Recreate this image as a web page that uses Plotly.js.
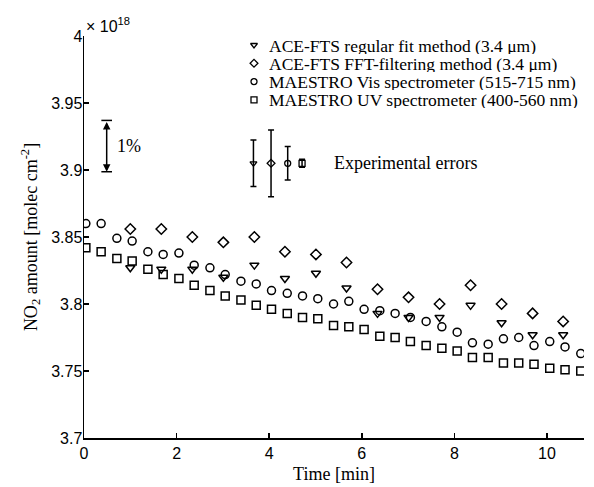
<!DOCTYPE html>
<html>
<head>
<meta charset="utf-8">
<script src="https://cdn.plot.ly/plotly-3.0.1.min.js"></script>
<style>html,body{margin:0;padding:0;background:#fff;}</style>
</head>
<body>
<div id="chart" style="width:594px;height:487px;"></div>
<script>
// Time axes (minutes)
const timeFine = [0.04,0.37,0.71,1.04,1.38,1.71,2.05,2.38,2.72,3.05,3.39,3.72,4.05,4.39,4.72,5.05,5.39,5.72,6.05,6.39,6.72,7.05,7.39,7.73,8.06,8.39,8.73,9.06,9.39,9.72,10.06,10.39,10.73];
const timeAce = [1.00,1.67,2.34,3.01,3.68,4.34,5.01,5.67,6.34,7.01,7.68,8.35,9.02,9.69,10.35];

// NO2 amounts (x 10^18 molec cm^-2)
const aceRegular = [3.827,3.826,3.826,3.820,3.829,3.819,3.823,3.812,3.793,3.790,3.790,3.799,3.786,3.777,3.777];
const aceFFT = [3.856,3.856,3.850,3.846,3.850,3.839,3.837,3.831,3.811,3.805,3.800,3.814,3.800,3.793,3.787];
const maestroVis = [3.860,3.860,3.849,3.847,3.839,3.837,3.838,3.829,3.827,3.822,3.817,3.815,3.810,3.808,3.806,3.804,3.800,3.802,3.796,3.795,3.793,3.790,3.787,3.783,3.779,3.771,3.770,3.774,3.775,3.769,3.772,3.768,3.763];
const maestroUV = [3.842,3.839,3.834,3.832,3.826,3.822,3.819,3.814,3.810,3.806,3.803,3.799,3.796,3.793,3.790,3.789,3.784,3.783,3.781,3.776,3.775,3.772,3.769,3.767,3.765,3.760,3.760,3.756,3.756,3.755,3.752,3.751,3.750];

const seriesNames = [
  "ACE-FTS regular fit method (3.4 \u03bcm)",
  "ACE-FTS FFT-filtering method (3.4 \u03bcm)",
  "MAESTRO Vis spectrometer (515-715 nm)",
  "MAESTRO UV spectrometer (400-560 nm)"
];

// Experimental error illustration
const errorTimes = [3.66, 4.04, 4.40, 4.71];
const errorLevel = [3.905, 3.905, 3.905, 3.905];
const errorHalfWidths = [0.0173, 0.0249, 0.0125, 0.003];
const errorLabel = "Experimental errors";

// 1% scale bar
const onePctTime = 0.49;
const onePctBottom = 3.8987;
const onePctTop = 3.937;
const onePctLabel = "1%";

// Axis ticks
const xTicks = [0, 2, 4, 6, 8, 10];
const yTicks = [3.7, 3.75, 3.8, 3.85, 3.9, 3.95, 4];
const yTickText = ["3.7", "3.75", "3.8", "3.85", "3.9", "3.95", "4"];

const symbols = ["triangle-down-open", "diamond-open", "circle-open", "square-open"];
const xs = [timeAce, timeAce, timeFine, timeFine];
const ys = [aceRegular, aceFFT, maestroVis, maestroUV];

const serif = "Liberation Serif, Times New Roman, serif";
const sans = "Liberation Sans, Arial, Helvetica, sans-serif";

// plot-area size in px (for the hand-built legend on an overlay pixel axis)
const W = 594, H = 487, M = {l: 84, r: 10, t: 36, b: 49};
const plotW = W - M.l - M.r, plotH = H - M.t - M.b;
const legSymX = 170, legTextX = 184, legTopY = 9, legGap = 18.3;

const traces = [];
for (let i = 0; i < 4; i++) {
  traces.push({
    x: xs[i], y: ys[i], type: "scatter", mode: "markers", showlegend: false,
    marker: {symbol: symbols[i], size: 8, color: "#000", line: {width: 1.5, color: "#000"}},
    hoverinfo: "skip"
  });
}
for (let i = 0; i < 4; i++) {
  traces.push({
    x: [errorTimes[i]], y: [errorLevel[i]], type: "scatter", mode: "markers", showlegend: false,
    marker: {symbol: symbols[i], size: 6, color: "#000", line: {width: 1.3, color: "#000"}},
    error_y: {type: "data", array: [errorHalfWidths[i]], visible: true, color: "#000", thickness: 1.5, width: 3}
  });
}
// legend keys
traces.push({
  x: symbols.map(() => legSymX), y: symbols.map((s, i) => legTopY + i * legGap),
  xaxis: "x2", yaxis: "y2", type: "scatter", mode: "markers", showlegend: false,
  marker: {symbol: symbols, size: 6, color: "#000", line: {width: 1.3, color: "#000"}}
});

const annotations = [
  {xref: "paper", yref: "paper", x: 0.0, y: 0.9975, xanchor: "left", yanchor: "bottom", showarrow: false,
   text: "\u00d7 10<sup>18</sup>", font: {family: sans, size: 16, color: "#000"}},
  {xref: "x", yref: "y", x: onePctTime, y: onePctBottom, ax: onePctTime, ay: onePctTop, axref: "x", ayref: "y",
   text: "", showarrow: true, arrowside: "end+start", arrowhead: 2, arrowsize: 1, arrowwidth: 1.5, arrowcolor: "#000",
   standoff: 0, startstandoff: 0},
  {xref: "x", yref: "y", x: 0.67, y: (onePctBottom + onePctTop) / 2, xanchor: "left", yanchor: "middle", showarrow: false,
   text: onePctLabel, font: {family: serif, size: 18, color: "#000"}},
  {xref: "x", yref: "y", x: 5.35, y: errorLevel[0], xanchor: "left", yanchor: "middle", showarrow: false,
   text: errorLabel, font: {family: serif, size: 18, color: "#000"}}
];
seriesNames.forEach((name, i) => {
  annotations.push({xref: "x2", yref: "y2", x: legTextX, y: legTopY + i * legGap, xanchor: "left", yanchor: "middle",
    showarrow: false, height: 17, borderpad: 0, text: name, font: {family: serif, size: 17.5, color: "#000"}});
});

const layout = {
  width: W, height: H,
  margin: M,
  paper_bgcolor: "#fff", plot_bgcolor: "#fff",
  font: {family: sans, size: 16, color: "#000"},
  showlegend: false,
  xaxis: {
    range: [0, 10.8], tickvals: xTicks, ticks: "inside", ticklen: 5, tickwidth: 1.5, tickcolor: "#000",
    showline: true, linewidth: 1.5, linecolor: "#000", showgrid: false, zeroline: false,
    tickfont: {family: sans, size: 16, color: "#000"},
    title: {text: "Time [min]", font: {family: serif, size: 18, color: "#000"}, standoff: 6}
  },
  yaxis: {
    range: [3.7, 4], tickvals: yTicks, ticktext: yTickText, ticks: "inside", ticklen: 5, tickwidth: 1.5, tickcolor: "#000",
    showline: true, linewidth: 1.5, linecolor: "#000", showgrid: false, zeroline: false,
    tickfont: {family: sans, size: 16, color: "#000"}, ticklabelstandoff: -3,
    title: {text: "NO<sub>2</sub> amount [molec cm<sup>-2</sup>]", font: {family: serif, size: 18, color: "#000"}, standoff: 9}
  },
  xaxis2: {overlaying: "x", range: [0, plotW], visible: false, fixedrange: true},
  yaxis2: {overlaying: "y", range: [plotH, 0], visible: false, fixedrange: true},
  annotations: annotations,
  shapes: [
    {type: "line", xref: "x", yref: "y", x0: onePctTime - 0.115, x1: onePctTime + 0.115, y0: onePctTop, y1: onePctTop, line: {color: "#000", width: 1.5}},
    {type: "line", xref: "x", yref: "y", x0: onePctTime - 0.115, x1: onePctTime + 0.115, y0: onePctBottom, y1: onePctBottom, line: {color: "#000", width: 1.5}}
  ]
};

Plotly.newPlot("chart", traces, layout, {displayModeBar: false, staticPlot: true});
</script>
</body>
</html>
